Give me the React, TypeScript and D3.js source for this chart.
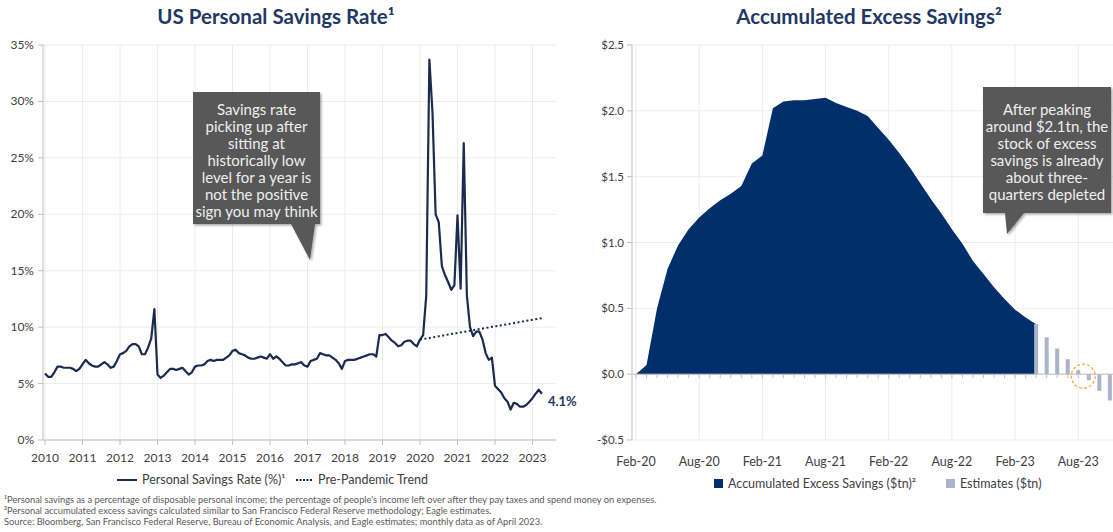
import React from "react";
import * as d3 from "d3";

// ---------- DATA ----------
// US personal savings rate (%), monthly from Jan 2010 to Apr 2023
const savingsRate: number[] = [
  // 2010
  5.9, 5.6, 5.6, 6.0, 6.5, 6.5, 6.4, 6.4, 6.4, 6.3, 6.1, 6.3,
  // 2011
  6.7, 7.1, 6.8, 6.6, 6.5, 6.5, 6.7, 6.9, 6.7, 6.4, 6.5, 7.0,
  // 2012
  7.6, 7.7, 7.9, 8.3, 8.5, 8.5, 8.3, 7.6, 7.6, 8.2, 9.0, 11.6,
  // 2013
  5.8, 5.5, 5.7, 6.0, 6.3, 6.3, 6.2, 6.3, 6.4, 6.1, 5.8, 6.0,
  // 2014
  6.5, 6.6, 6.6, 6.7, 7.0, 7.1, 7.0, 7.1, 7.1, 7.1, 7.3, 7.5,
  // 2015
  7.9, 8.0, 7.7, 7.6, 7.5, 7.3, 7.2, 7.2, 7.3, 7.4, 7.3, 7.2,
  // 2016
  7.6, 7.2, 7.4, 7.2, 6.9, 6.6, 6.6, 6.7, 6.7, 6.8, 6.9, 6.6,
  // 2017
  6.5, 7.0, 7.1, 7.2, 7.7, 7.6, 7.5, 7.5, 7.3, 7.1, 6.8, 6.3,
  // 2018
  7.0, 7.1, 7.1, 7.1, 7.2, 7.3, 7.4, 7.5, 7.6, 7.6, 7.4, 9.3,
  // 2019
  9.3, 9.4, 9.1, 8.8, 8.6, 8.3, 8.4, 8.7, 8.8, 8.8, 8.5, 8.3,
  // 2020
  8.9, 9.3, 12.8, 33.7, 29.0, 20.0, 19.3, 15.4, 14.6, 14.0, 13.3, 13.7,
  // 2021
  19.9, 13.4, 26.3, 12.8, 10.0, 9.2, 9.6, 9.6, 8.9, 7.7, 7.1, 7.3,
  // 2022
  4.8, 4.5, 4.2, 3.7, 3.4, 2.7, 3.3, 3.2, 2.95, 2.95, 3.1, 3.4,
  // 2023
  3.7, 4.1, 4.45, 4.1,
];
// Pre-pandemic trend (month index from Jan 2010, value %)
const trendMonths: number[] = [120, 159];
const trendValues: number[] = [8.9, 10.8];

const yearLabels: string[] = ["2010", "2011", "2012", "2013", "2014", "2015", "2016", "2017", "2018", "2019", "2020", "2021", "2022", "2023"];
const leftYTicks: number[] = [0, 5, 10, 15, 20, 25, 30, 35];

// Accumulated excess savings ($tn), monthly from Feb 2020 to Apr 2023
const excessSavings: number[] = [
  0.0, 0.07, 0.5, 0.8, 0.98, 1.1, 1.19, 1.26, 1.32, 1.37, 1.43, 1.6,
  1.66, 2.02, 2.07, 2.08, 2.08, 2.09, 2.1, 2.06, 2.03, 2.0, 1.96, 1.87,
  1.78, 1.68, 1.57, 1.45, 1.33, 1.22, 1.1, 0.99, 0.86, 0.76, 0.66, 0.57,
  0.49, 0.43, 0.38,
];
// Estimates ($tn), monthly from Apr 2023 to Nov 2023 (month index 38..45 from Feb 2020)
const estimateStart = 38;
const estimates: number[] = [0.38, 0.28, 0.195, 0.114, 0.03, -0.046, -0.127, -0.2];

const rightXLabels: string[] = ["Feb-20", "Aug-20", "Feb-21", "Aug-21", "Feb-22", "Aug-22", "Feb-23", "Aug-23"];
const rightYTicks: number[] = [-0.5, 0, 0.5, 1.0, 1.5, 2.0, 2.5];

const leftCallout: string[] = [
  "Savings rate",
  "picking up after",
  "sitting at",
  "historically low",
  "level for a year is",
  "not the positive",
  "sign you may think",
];
const rightCallout: string[] = [
  "After peaking",
  "around $2.1tn, the",
  "stock of excess",
  "savings is already",
  "about three-",
  "quarters depleted",
];
const footnotes: string[] = [
  "¹Personal savings as a percentage of disposable personal income; the percentage of people's income left over after they pay taxes and spend money on expenses.",
  "²Personal accumulated excess savings calculated similar to San Francisco Federal Reserve methodology; Eagle estimates.",
  "Source: Bloomberg, San Francisco Federal Reserve, Bureau of Economic Analysis, and Eagle estimates; monthly data as of April 2023.",
];

// ---------- STYLE ----------
const FONT = "Lato, 'Open Sans', sans-serif";
const NAVY = "#1f3864";
const LINE = "#1b2b4e";
const AREA = "#002f6b";
const EST = "#a9b3c9";
const GRID = "#ececec";
const AXIS = "#bfbfbf";
const TXT = "#404040";
const CALLOUT = "#595959";

export default function App() {
  // Left chart scales
  const xL = d3.scaleLinear().domain([0, 12]).range([45, 82.5]);
  const yL = d3.scaleLinear().domain([0, 35]).range([440, 45]);
  const line = d3
    .line<number>()
    .x((_, i) => xL(i))
    .y((d) => yL(d));
  const trendPts = trendMonths.map((m, i) => [xL(m), yL(trendValues[i])] as [number, number]);

  // Right chart scales
  const xR = d3.scaleLinear().domain([0, 1]).range([636, 646.53]);
  const yR = d3.scaleLinear().domain([-0.5, 2.5]).range([440, 45]);
  const area = d3
    .area<number>()
    .x((_, i) => xR(i))
    .y0(yR(0))
    .y1((d) => yR(d));
  const totalMonthsR = estimateStart + estimates.length;

  return (
    <svg
      width={1113}
      height={532}
      style={{ position: "absolute", left: 0, top: 0, background: "#fff" }}
      fontFamily={FONT}
    >
      <defs>
        <filter id="shadow" x="-10%" y="-10%" width="130%" height="130%">
          <feDropShadow dx="1.5" dy="1.5" stdDeviation="1.2" floodColor="#000" floodOpacity="0.35" />
        </filter>
      </defs>

      {/* ---------------- LEFT CHART ---------------- */}
      <text x={276} y={24} textAnchor="middle" fontSize={20.5} fontWeight={700} fill={NAVY}>
        US Personal Savings Rate¹
      </text>

      {/* gridlines */}
      {leftYTicks.map((t) => (
        <line key={"lg" + t} x1={43} x2={556} y1={yL(t)} y2={yL(t)} stroke={GRID} />
      ))}
      {yearLabels.map((_, i) => (
        <line key={"lv" + i} x1={xL(i * 12)} x2={xL(i * 12)} y1={45} y2={440} stroke={GRID} />
      ))}
      {/* axes */}
      <line x1={43} x2={43} y1={45} y2={440} stroke={AXIS} />
      <line x1={43} x2={556} y1={440} y2={440} stroke={AXIS} />
      {leftYTicks.map((t) => (
        <g key={"ly" + t}>
          <line x1={38} x2={43} y1={yL(t)} y2={yL(t)} stroke={AXIS} />
          <text x={34} y={yL(t) + 4} textAnchor="end" fontSize={12} fill={TXT}>
            {t + "%"}
          </text>
        </g>
      ))}
      {yearLabels.map((lab, i) => (
        <g key={"lx" + i}>
          <line x1={xL(i * 12)} x2={xL(i * 12)} y1={440} y2={445} stroke={AXIS} />
          <text x={xL(i * 12)} y={462} textAnchor="middle" fontSize={12} fill={TXT}>
            {lab}
          </text>
        </g>
      ))}

      {/* trend */}
      <line
        x1={trendPts[0][0]}
        y1={trendPts[0][1]}
        x2={trendPts[1][0]}
        y2={trendPts[1][1]}
        stroke={LINE}
        strokeWidth={2}
        strokeDasharray="2 2.5"
      />
      {/* savings rate line */}
      <path d={line(savingsRate) || ""} fill="none" stroke={LINE} strokeWidth={2.2} strokeLinejoin="round" />
      <text
        x={xL(savingsRate.length - 1) + 6}
        y={yL(savingsRate[savingsRate.length - 1]) + 12}
        fontSize={13}
        fontWeight={700}
        fill={NAVY}
      >
        4.1%
      </text>

      {/* left callout */}
      <g filter="url(#shadow)">
        <path d="M193,92 L320,92 L320,224 L315,224 L310,260 L291,224 L193,224 Z" fill={CALLOUT} />
      </g>
      {leftCallout.map((s, i) => (
        <text key={"lc" + i} x={256.5} y={115 + i * 17} textAnchor="middle" fontSize={15} fill="#eeeeee">
          {s}
        </text>
      ))}

      {/* left legend */}
      <line x1={117} x2={137} y1={480} y2={480} stroke={LINE} strokeWidth={2} />
      <text x={142} y={484} fontSize={12.5} fill={TXT}>
        Personal Savings Rate (%)¹
      </text>
      <line x1={296} x2={313} y1={480} y2={480} stroke={LINE} strokeWidth={2} strokeDasharray="2 1.5" />
      <text x={318} y={484} fontSize={12.5} fill={TXT}>
        Pre-Pandemic Trend
      </text>

      {/* footnotes */}
      {footnotes.map((f, i) => (
        <text key={"fn" + i} x={4} y={503 + i * 11} fontSize={9.3} fill="#595959">
          {f}
        </text>
      ))}

      {/* ---------------- RIGHT CHART ---------------- */}
      <text x={869} y={24} textAnchor="middle" fontSize={20.5} fontWeight={700} fill={NAVY}>
        Accumulated Excess Savings²
      </text>

      {rightYTicks.map((t) => (
        <line key={"rg" + t} x1={632} x2={1113} y1={yR(t)} y2={yR(t)} stroke={GRID} />
      ))}
      {rightXLabels.map((_, i) => (
        <line key={"rv" + i} x1={xR(i * 6)} x2={xR(i * 6)} y1={45} y2={440} stroke={GRID} />
      ))}

      {/* area */}
      <path d={area(excessSavings) || ""} fill={AREA} />
      {/* estimate bars */}
      {estimates.map((v, i) => {
        const x = xR(estimateStart + i);
        const y0 = yR(0);
        const y1 = yR(v);
        return <rect key={"eb" + i} x={x - 2} y={Math.min(y0, y1)} width={4} height={Math.abs(y1 - y0)} fill={EST} />;
      })}

      {/* axes */}
      <line x1={632} x2={632} y1={45} y2={440} stroke={AXIS} />
      <line x1={632} x2={1113} y1={yR(0)} y2={yR(0)} stroke={AXIS} />
      {d3.range(0, totalMonthsR).map((m) => (
        <line key={"rt" + m} x1={xR(m)} x2={xR(m)} y1={yR(0)} y2={yR(0) + 4} stroke={AXIS} />
      ))}
      {rightYTicks.map((t) => (
        <g key={"ry" + t}>
          <line x1={627} x2={632} y1={yR(t)} y2={yR(t)} stroke={AXIS} />
          <text x={624} y={yR(t) + 4} textAnchor="end" fontSize={11.5} fill={TXT}>
            {(t < 0 ? "-$" : "$") + Math.abs(t).toFixed(1)}
          </text>
        </g>
      ))}
      {rightXLabels.map((lab, i) => (
        <text key={"rx" + i} x={xR(i * 6)} y={466} textAnchor="middle" fontSize={12.5} fill={TXT}>
          {lab}
        </text>
      ))}

      {/* highlight circle */}
      <circle
        cx={xR(42) + 5}
        cy={yR(0) + 2}
        r={12}
        fill="none"
        stroke="#f0a830"
        strokeWidth={1.2}
        strokeDasharray="3 2"
      />

      {/* right callout */}
      <g filter="url(#shadow)">
        <path d="M983,87 L1111,87 L1111,213 L1024,213 L1007,234 L1005,213 L983,213 Z" fill={CALLOUT} />
      </g>
      {rightCallout.map((s, i) => (
        <text key={"rc" + i} x={1047} y={115 + i * 17} textAnchor="middle" fontSize={15} fill="#eeeeee">
          {s}
        </text>
      ))}

      {/* right legend */}
      <rect x={714} y={479} width={9} height={9} fill={AREA} />
      <text x={728} y={488} fontSize={12.5} fill={TXT}>
        Accumulated Excess Savings ($tn)²
      </text>
      <rect x={946} y={479} width={9} height={9} fill={EST} />
      <text x={960} y={488} fontSize={12.5} fill={TXT}>
        Estimates ($tn)
      </text>
    </svg>
  );
}
